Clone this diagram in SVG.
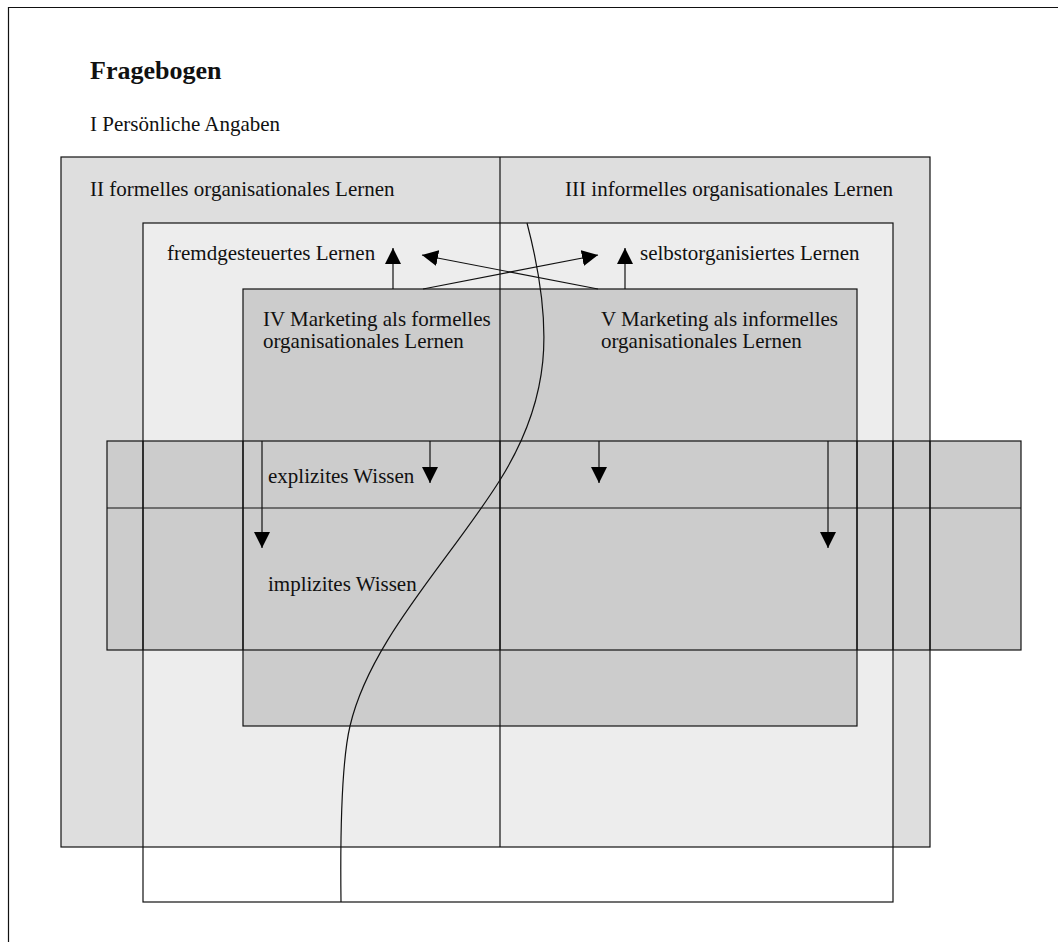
<svg xmlns="http://www.w3.org/2000/svg" width="1058" height="942" viewBox="0 0 1058 942">
<style>
text{font-family:"Liberation Serif","Times New Roman",serif;font-size:21px;fill:#111}
.ln{stroke:#111;stroke-width:1.2;fill:none}
.conn{stroke:#111;stroke-width:1.2;fill:none}
</style>
<defs>
<marker id="ah" markerWidth="16" markerHeight="16" viewBox="0 0 16 16" refX="16" refY="8" orient="auto" markerUnits="userSpaceOnUse"><path d="M0,0 L16,8 L0,16 z" fill="#000"/></marker>
</defs>
<rect x="0" y="0" width="1058" height="942" fill="#fff"/>
<path class="ln" d="M8.5,942 V7.5 H1058"/>
<g id="title">
<text x="90" y="79" style="font-weight:bold;font-size:26px">Fragebogen</text>
<text x="90" y="131">I Persönliche Angaben</text>
</g>
<g id="fills">
<rect x="61" y="157" width="869" height="690" fill="#dedede"/>
<rect x="143" y="223" width="750" height="624" fill="#ededed"/>
<rect x="243" y="289" width="614" height="437" fill="#cccccc"/>
<rect x="107" y="441" width="914" height="209" fill="#cccccc"/>
</g>
<g id="node-formell-informell">
<rect class="ln" x="61" y="157" width="869" height="690"/>
<line class="ln" x1="500" y1="157" x2="500" y2="847"/>
<text x="90" y="196">II formelles organisationales Lernen</text>
<text x="893" y="196" text-anchor="end">III informelles organisationales Lernen</text>
</g>
<g id="node-lernen">
<rect class="ln" x="143" y="223" width="750" height="679"/>
<text x="167" y="260">fremdgesteuertes Lernen</text>
<text x="640" y="260">selbstorganisiertes Lernen</text>
</g>
<g id="node-marketing">
<rect class="ln" x="243" y="289" width="614" height="437"/>
<text x="263" y="326">IV Marketing als formelles</text>
<text x="263" y="348">organisationales Lernen</text>
<text x="601" y="326">V Marketing als informelles</text>
<text x="601" y="348">organisationales Lernen</text>
</g>
<g id="node-wissen">
<rect class="ln" x="107" y="441" width="914" height="209"/>
<line class="ln" x1="107" y1="508" x2="1021" y2="508"/>
<text x="268" y="483">explizites Wissen</text>
<text x="268" y="591">implizites Wissen</text>
</g>
<g id="overlay-lines">
<line class="ln" x1="143" y1="441" x2="143" y2="650"/>
<line class="ln" x1="893" y1="441" x2="893" y2="650"/>
<line class="ln" x1="930" y1="441" x2="930" y2="650"/>
<line class="ln" x1="243" y1="441" x2="243" y2="650"/>
<line class="ln" x1="857" y1="441" x2="857" y2="650"/>
<line class="ln" x1="500" y1="441" x2="500" y2="650"/>
</g>
<g id="connectors">
<line class="conn" x1="393" y1="289" x2="393" y2="248" marker-end="url(#ah)"/>
<line class="conn" x1="625" y1="289" x2="625" y2="248" marker-end="url(#ah)"/>
<line class="conn" x1="598" y1="289" x2="422" y2="255" marker-end="url(#ah)"/>
<line class="conn" x1="423" y1="289" x2="598" y2="255" marker-end="url(#ah)"/>
<line class="conn" x1="262" y1="441" x2="262" y2="548" marker-end="url(#ah)"/>
<line class="conn" x1="430" y1="441" x2="430" y2="483" marker-end="url(#ah)"/>
<line class="conn" x1="599" y1="441" x2="599" y2="483" marker-end="url(#ah)"/>
<line class="conn" x1="828" y1="441" x2="828" y2="548" marker-end="url(#ah)"/>
<path class="conn" stroke-width="1" d="M527,223 C555,330 550,400 500,480 C450,560 370,640 350,726 C343,756 340,820 341,902"/>
</g>
</svg>
